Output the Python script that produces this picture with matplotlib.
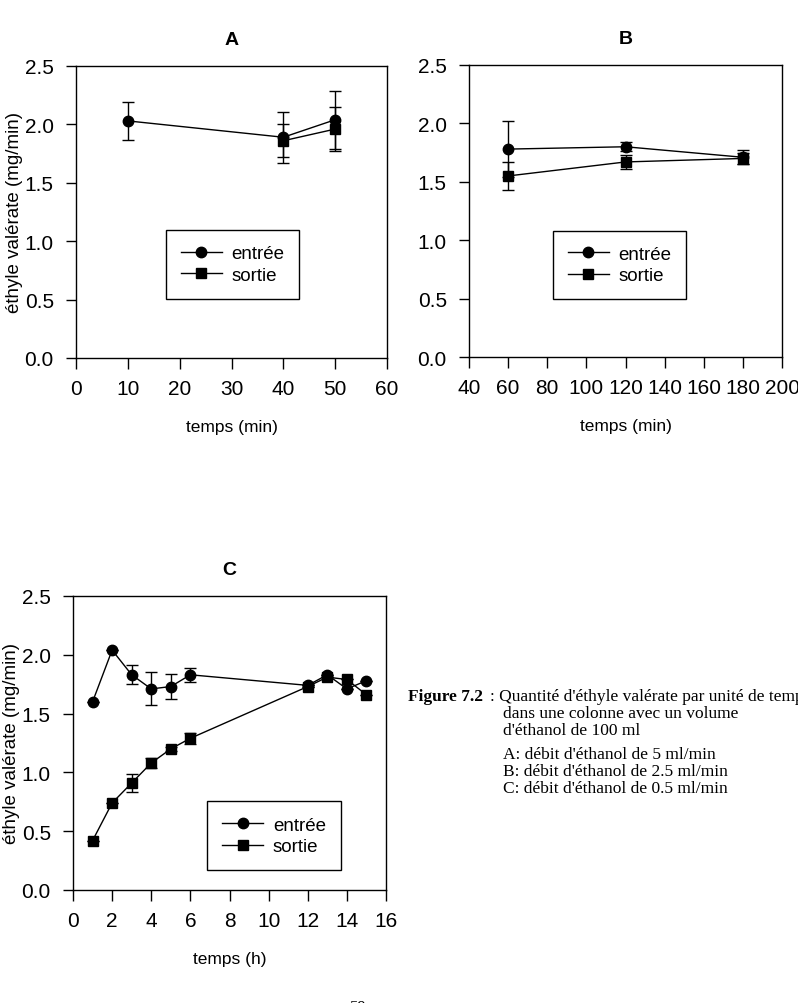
import matplotlib
matplotlib.use("Agg")
import matplotlib.pyplot as plt
from matplotlib.lines import Line2D
import numpy as np

plt.rcParams.update({'font.family': ['Liberation Sans', 'DejaVu Sans'],
                     'font.size': 15, 'axes.linewidth': 1.0})

# panel A : débit 5 ml/min
tA_in = [10, 40, 50]
yA_in = [2.03, 1.89, 2.04]
eA_in = [0.16, 0.22, 0.25]
tA_out = [40, 50]
yA_out = [1.86, 1.96]
eA_out = [0.14, 0.19]

# panel B : débit 2.5 ml/min
tB = [60, 120, 180]
yB_in = [1.78, 1.80, 1.71]
eB_in = [0.24, 0.04, 0.06]
yB_out = [1.55, 1.67, 1.70]
eB_out = [0.12, 0.057, 0.05]

# panel C : débit 0.5 ml/min
tC = [1, 2, 3, 4, 5, 6, 12, 13, 14, 15]
yC_in = [1.60, 2.04, 1.83, 1.71, 1.73, 1.83, 1.74, 1.83, 1.71, 1.78]
eC_in = [0, 0, 0.08, 0.14, 0.11, 0.06, 0, 0, 0, 0]
yC_out = [0.42, 0.74, 0.91, 1.08, 1.20, 1.29, 1.73, 1.81, 1.79, 1.66]
eC_out = [0, 0, 0.08, 0.045, 0.02, 0.045, 0, 0, 0, 0]

ylab = "éthyle valérate (mg/min)"
series = ['entrée', 'sortie']

W, H = 798, 1004
fig = plt.figure(figsize=(W / 100, H / 100), dpi=100)


def ax_px(l, t, r, b):
    return fig.add_axes([l / W, 1 - b / H, (r - l) / W, (b - t) / H])


def style(ax, title, xlabel, xlim, xticks, leg_pos):
    ax.set_xlim(*xlim)
    ax.set_ylim(0, 2.5)
    ax.set_xticks(xticks)
    ax.set_yticks(np.arange(0, 2.51, 0.5))
    ax.yaxis.set_major_formatter(matplotlib.ticker.FormatStrFormatter('%.1f'))
    ax.tick_params(axis='x', direction='out', length=8, width=1, pad=7)
    ax.tick_params(axis='y', direction='out', length=7, width=1, pad=9)
    ax.set_title(title, fontsize=14, fontweight='bold', pad=16)
    ax.set_xlabel(xlabel, fontsize=12.5, labelpad=15)
    handles = [Line2D([], [], color='black', lw=1, marker='o', ms=7.5),
               Line2D([], [], color='black', lw=1, marker='s', ms=6.5)]
    leg = ax.legend(handles, series, loc='center', bbox_to_anchor=leg_pos,
                    fancybox=False, edgecolor='black', framealpha=1,
                    fontsize=13.5, handlelength=2.2, handletextpad=0.5,
                    borderpad=0.8, labelspacing=0.25)
    leg.get_frame().set_linewidth(1.0)


kw = dict(color='black', lw=1.0, capsize=4, elinewidth=1.0, capthick=1.0)

axA = ax_px(76, 67, 387, 359)
axA.errorbar(tA_in, yA_in, yerr=eA_in, marker='o', ms=7.5, **kw)
axA.errorbar(tA_out, yA_out, yerr=eA_out, marker='s', ms=6.5, **kw)
style(axA, 'A', 'temps (min)', (0, 60), range(0, 61, 10), (0.503, 0.32))
axA.set_ylabel(ylab, fontsize=13.5, labelpad=1)

axB = ax_px(469, 66, 782, 358)
axB.errorbar(tB, yB_in, yerr=eB_in, marker='o', ms=7.5, **kw)
axB.errorbar(tB, yB_out, yerr=eB_out, marker='s', ms=6.5, **kw)
style(axB, 'B', 'temps (min)', (40, 200), range(40, 201, 20), (0.481, 0.315))

axC = ax_px(73, 597, 386, 891)
axC.errorbar(tC, yC_in, yerr=eC_in, marker='o', ms=7.5, **kw)
axC.errorbar(tC, yC_out, yerr=eC_out, marker='s', ms=6.5, **kw)
style(axC, 'C', 'temps (h)', (0, 16), range(0, 17, 2), (0.642, 0.184))
axC.set_ylabel(ylab, fontsize=13.5, labelpad=1)

# caption
serif = ['Liberation Serif', 'DejaVu Serif']
fig.text(408 / W, 1 - 697 / H, 'Figure 7.2', family=serif, fontsize=12.5,
         fontweight='bold', va='center')
fig.text(490 / W, 1 - 697 / H, ": Quantité d'éthyle valérate par unité de temps",
         family=serif, fontsize=12.5, va='center')
cap_lines = ["dans une colonne avec un volume",
             "d'éthanol de 100 ml",
             "A: débit d'éthanol de 5 ml/min",
             "B: débit d'éthanol de 2.5 ml/min",
             "C: débit d'éthanol de 0.5 ml/min"]
cap_y = [714, 731, 755, 772, 789]
for s, y in zip(cap_lines, cap_y):
    fig.text(503 / W, 1 - y / H, s, family=serif, fontsize=12.5, va='center')

fig.text(358 / W, 1 - 1008 / H, '59', family=serif, fontsize=12, ha='center',
         va='center')

fig.savefig('out.png', dpi=100)
